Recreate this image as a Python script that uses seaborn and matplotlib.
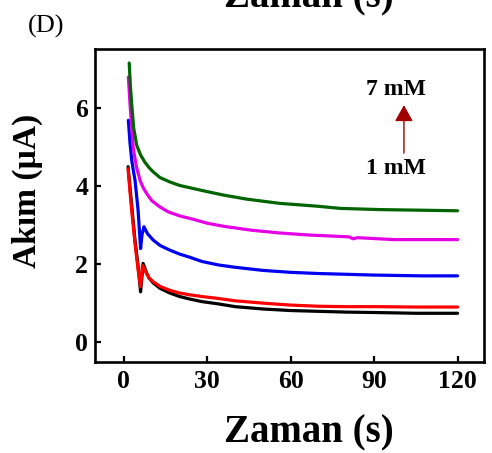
import numpy as np
import pandas as pd
import matplotlib
matplotlib.use("Agg")
import matplotlib.pyplot as plt
import seaborn as sns

# ---- data ----
conc_labels = ["1 mM", "2 mM", "3 mM", "5 mM", "7 mM"]
line_colors = ["#000000", "#FF0000", "#0000F0", "#E600E6", "#006400"]

t_black = [1.5, 2.2, 2.8, 3.4, 4.0, 5.1, 6.0, 6.9, 8.0, 9.0, 10.5, 13, 16.5, 20, 24, 28, 34, 40, 50, 60, 70, 80, 90, 105, 120]
i_black = [4.50, 3.95, 3.50, 3.05, 2.60, 1.95, 1.29, 2.02, 1.80, 1.65, 1.52, 1.38, 1.26, 1.17, 1.10, 1.04, 0.98, 0.91, 0.85, 0.81, 0.79, 0.77, 0.76, 0.74, 0.74]

t_red = [1.5, 2.2, 2.8, 3.4, 4.0, 5.1, 6.0, 6.7, 8.0, 9.0, 10.5, 13, 16.5, 20, 24, 28, 34, 40, 50, 60, 70, 80, 91, 105, 120]
i_red = [4.45, 3.85, 3.38, 2.95, 2.53, 1.85, 1.42, 1.97, 1.78, 1.65, 1.55, 1.43, 1.33, 1.26, 1.21, 1.17, 1.12, 1.06, 1.00, 0.95, 0.92, 0.91, 0.91, 0.90, 0.90]

t_blue = [1.6, 2.2, 2.8, 3.4, 4.0, 5.1, 6.0, 6.5, 7.2, 8.5, 10.5, 13, 16.5, 20, 24, 28, 34, 40, 50, 60, 70, 80, 90, 107, 120]
i_blue = [5.69, 5.10, 4.67, 4.40, 4.15, 3.38, 2.40, 2.75, 2.96, 2.78, 2.62, 2.48, 2.36, 2.26, 2.17, 2.07, 1.98, 1.92, 1.84, 1.79, 1.76, 1.74, 1.72, 1.70, 1.70]

t_mag = [1.6, 2.2, 2.8, 3.4, 4.5, 5.8, 7.0, 8.2, 10, 12.9, 16, 20, 25, 30, 36, 46, 56, 66, 75, 81, 82.5, 84, 97, 120]
i_mag = [6.80, 6.10, 5.50, 4.95, 4.50, 4.15, 3.95, 3.81, 3.63, 3.47, 3.34, 3.24, 3.15, 3.05, 2.97, 2.87, 2.80, 2.75, 2.72, 2.70, 2.65, 2.68, 2.63, 2.63]

t_green = [1.9, 2.3, 2.8, 3.5, 4.6, 6.0, 7.5, 9.0, 10.5, 13, 16.5, 20, 25, 30, 36, 44, 56, 69, 78, 92, 120]
i_green = [7.16, 6.60, 6.10, 5.50, 5.05, 4.80, 4.62, 4.48, 4.37, 4.22, 4.11, 4.02, 3.94, 3.86, 3.77, 3.67, 3.56, 3.49, 3.43, 3.40, 3.37]

x_ticks = [0, 30, 60, 90, 120]
y_ticks = [0, 2, 4, 6]

series_t = [t_black, t_red, t_blue, t_mag, t_green]
series_i = [i_black, i_red, i_blue, i_mag, i_green]

frames = []
for lab, t, i in zip(conc_labels, series_t, series_i):
    frames.append(pd.DataFrame({"t": t, "I": i, "conc": lab}))
df = pd.concat(frames, ignore_index=True)

# ---- style ----
sns.set_style("white")
plt.rcParams["font.family"] = ["Liberation Serif", "DejaVu Serif"]
plt.rcParams["text.color"] = "black"
plt.rcParams["axes.labelcolor"] = "black"
plt.rcParams["xtick.color"] = "black"
plt.rcParams["ytick.color"] = "black"

fig = plt.figure(figsize=(4.92, 4.53), dpi=100)
ax = fig.add_axes([95 / 492, 1 - 362 / 453, 389 / 492, 313 / 453])

sns.lineplot(data=df, x="t", y="I", hue="conc", hue_order=conc_labels,
             palette=line_colors, sort=False, estimator=None, lw=2.3,
             legend=False, ax=ax)
for ln in ax.lines:
    ln.set_solid_joinstyle("round")
    ln.set_solid_capstyle("round")

ax.set_xlim(-10.4, 129.5)
ax.set_ylim(-0.51, 7.52)
ax.set_xticks(x_ticks)
ax.set_yticks(y_ticks)
ax.set_xticklabels([str(v) for v in x_ticks])
ax.set_yticklabels([str(v) for v in y_ticks])

for s in ax.spines.values():
    s.set_visible(True)
    s.set_color("black")
    s.set_linewidth(1.9)

ax.tick_params(axis="both", which="major", direction="in", length=4, width=1.6,
               labelsize=18.5, color="black", labelcolor="black",
               top=False, right=False, bottom=True, left=True)
ax.tick_params(axis="x", pad=6)
ax.tick_params(axis="y", pad=5)
for lbl in ax.get_xticklabels() + ax.get_yticklabels():
    lbl.set_fontweight("bold")

ax.set_xlabel("Zaman (s)", fontsize=28, fontweight="bold")
ax.xaxis.label.set_va("baseline")
ax.xaxis.set_label_coords((309 - 95) / 389, (362 - 442) / 313)

ax.set_ylabel("Akım (µA)", fontsize=24, fontweight="bold")
ax.yaxis.label.set_va("center")
ax.yaxis.set_label_coords((27 - 95) / 389, (362 - 191) / 313)

# concentration annotation
ax.text(97.9, 6.49, "7 mM", ha="center", va="center", fontsize=17, fontweight="bold")
ax.text(97.9, 4.46, "1 mM", ha="center", va="center", fontsize=17, fontweight="bold")
ax.annotate("", xy=(100.7, 6.08), xytext=(100.7, 4.85),
            arrowprops=dict(arrowstyle="-|>,head_length=0.5,head_width=0.28",
                            color="#A00000", lw=1.0, mutation_scale=20,
                            shrinkA=0, shrinkB=0))

# panel label and the cut-off label of the panel above
fig.text(28 / 492, 1 - 26 / 453, "(D)", ha="left", va="center", fontsize=19)
fig.text(309 / 492, 1 - 7 / 453, "Zaman (s)", ha="center", va="baseline",
         fontsize=28, fontweight="bold")

fig.savefig("out.png", dpi=100)
